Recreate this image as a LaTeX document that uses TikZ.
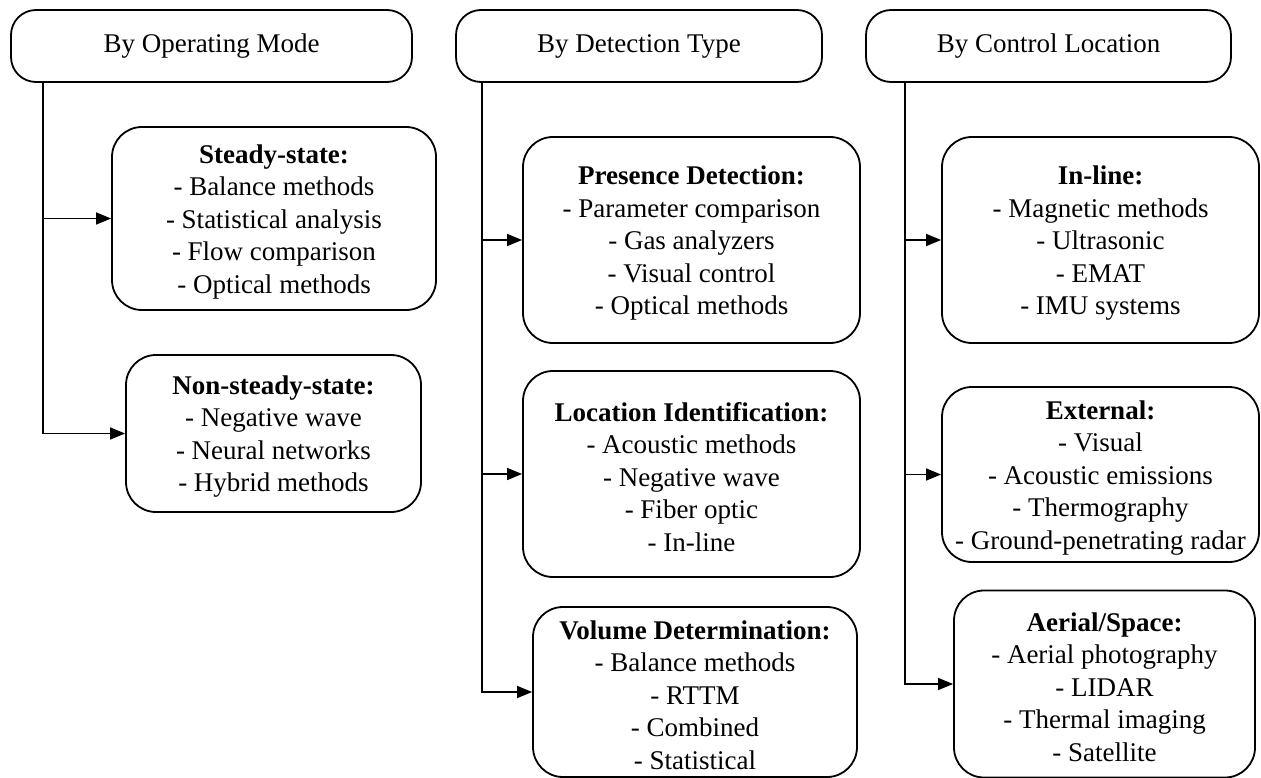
\documentclass[tikz,border=0pt]{standalone}
\usepackage{fontspec}
\setmainfont{Liberation Serif}
\usetikzlibrary{arrows.meta}
\newcommand\topfix{\rule{0pt}{25pt}}
\begin{document}
\begin{tikzpicture}[x=1pt,y=-1pt,
  every node/.style={font=\fontsize{27}{32.5}\selectfont},
  header/.style={draw, line width=1.8pt, rounded corners=25pt, inner sep=0pt, minimum height=72pt, align=center},
  itembox/.style={draw, line width=1.8pt, rounded corners=30pt, inner sep=0pt, align=center},
  conn/.style={line width=1.4pt, -{Triangle[length=15pt,width=12pt]}},
  trunk/.style={line width=1.4pt}]
\useasboundingbox (0,0) rectangle (1261,778);
% headers
\node[header, minimum width=401pt] (h1) at (211.5,46) {By Operating Mode};
\node[header, minimum width=366pt] (h2) at (639,46) {By Detection Type};
\node[header, minimum width=365pt] (h3) at (1048.5,46) {By Control Location};
% column 1
\node[itembox, minimum width=324pt, minimum height=183pt] (st) at (274,218.5)
  {\topfix\textbf{Steady-state:}\\- Balance methods\\- Statistical analysis\\- Flow comparison\\- Optical methods};
\node[itembox, minimum width=295pt, minimum height=157pt] (ns) at (273.5,433.5)
  {\topfix\textbf{Non-steady-state:}\\- Negative wave\\- Neural networks\\- Hybrid methods};
% column 2
\node[itembox, minimum width=337pt, minimum height=206pt] (pd) at (691.5,240)
  {\topfix\textbf{Presence Detection:}\\- Parameter comparison\\- Gas analyzers\\- Visual control\\- Optical methods};
\node[itembox, minimum width=337pt, minimum height=206pt] (li) at (691.5,474)
  {\topfix\textbf{Location Identification:}\\- Acoustic methods\\- Negative wave\\- Fiber optic\\- In-line};
\node[itembox, minimum width=324pt, minimum height=170pt] (vd) at (695,692)
  {\topfix\textbf{Volume Determination:}\\- Balance methods\\- RTTM\\- Combined\\- Statistical};
% column 3
\node[itembox, minimum width=317pt, minimum height=206pt] (il) at (1100.5,240)
  {\topfix\textbf{In-line:}\\- Magnetic methods\\- Ultrasonic\\- EMAT\\- IMU systems};
\node[itembox, minimum width=317pt, minimum height=175pt] (ex) at (1100.5,474.5)
  {\topfix\textbf{External:}\\- Visual\\- Acoustic emissions\\- Thermography\\- Ground-penetrating radar};
\node[itembox, minimum width=301pt, minimum height=187pt] (ae) at (1104.5,684)
  {\topfix\textbf{Aerial/Space:}\\- Aerial photography\\- LIDAR\\- Thermal imaging\\- Satellite};
% trunk x positions
\coordinate (c1) at (43,0);
\coordinate (c2) at (482,0);
\coordinate (c3) at (905,0);
% connectors
\draw[conn] (h1.south -| c1) |- (st.west);
\draw[conn] (h1.south -| c1) |- (ns.west);
\draw[conn] (h2.south -| c2) |- (pd.west);
\draw[conn] (h2.south -| c2) |- (li.west);
\draw[conn] (h2.south -| c2) |- (vd.west);
\draw[conn] (h3.south -| c3) |- (il.west);
\draw[conn] (h3.south -| c3) |- (ex.west);
\draw[conn] (h3.south -| c3) |- (ae.west);
\end{tikzpicture}
\end{document}
